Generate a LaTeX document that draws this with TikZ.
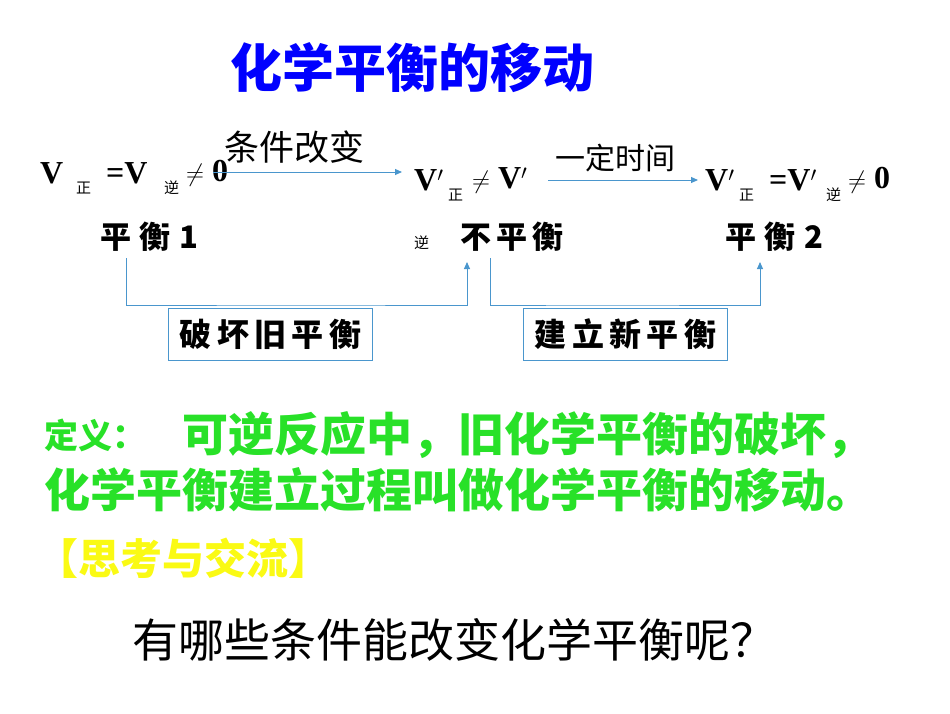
\documentclass[tikz,border=0pt]{standalone}
\usepackage{fontspec}
\setmainfont{Liberation Serif}
\newfontfamily\cjk{Noto Sans CJK SC}
\usetikzlibrary{arrows.meta}
\definecolor{lb}{RGB}{74,150,205}
\definecolor{gr}{RGB}{40,225,40}
\definecolor{ye}{RGB}{250,250,20}
\tikzset{
 vv/.style={inner sep=0,anchor=west,font=\fontsize{32}{32}\selectfont\bfseries},
 sb/.style={inner sep=0,anchor=west,font=\cjk\fontsize{15}{15}\selectfont},
 lab/.style={inner sep=0,anchor=west,font=\cjk\fontsize{31}{31}\selectfont\bfseries},
 conn/.style={lb,line width=1pt},
 arr/.style={conn,-{Triangle[length=7pt,width=6pt]}},
 bx/.style={draw=lb,line width=1pt,minimum width=204pt,minimum height=52pt,inner sep=0,font=\cjk\fontsize{32}{32}\selectfont\bfseries}
}
\begin{document}
\begin{tikzpicture}[x=1pt,y=-1pt]
\useasboundingbox (0,0) rectangle (950,713);
\node[inner sep=0,text=blue,font=\cjk\fontsize{52}{52}\selectfont\bfseries] (title) at (412,68) {化学平衡的移动};
% equation 1
\node[vv] (a1) at (40,173) {V};
\node[sb] (a2) at (76,188) {正};
\node[vv] (a3) at (106,173) {=V};
\node[sb] (a4) at (164,188) {逆};
\node[vv] (a5) at (186,173) {$\neq$ 0};
\node[inner sep=0,anchor=west,font=\cjk\fontsize{35}{35}\selectfont] (l1) at (224,147) {条件改变};
\coordinate (s1) at (213,172);
\coordinate (e1) at (402,172);
\draw[arr] (s1) -- (e1);
% equation 2
\node[vv] (b1) at (414,180) {V$'$};
\node[sb] (b2) at (448,195) {正};
\node[vv] (b3) at (472,180) {$\neq$ V$'$};
\node[sb] (b4) at (414,243) {逆};
\node[inner sep=0,anchor=west,font=\cjk\fontsize{30}{30}\selectfont] (l2) at (555,158) {一定时间};
\coordinate (s2) at (548,180);
\coordinate (e2) at (698,180);
\draw[arr] (s2) -- (e2);
% equation 3
\node[vv] (c1) at (705,180) {V$'$};
\node[sb] (c2) at (739,195) {正};
\node[vv] (c3) at (769,180) {=V$'$};
\node[sb] (c4) at (826,195) {逆};
\node[vv] (c5) at (848,180) {$\neq$ 0};
% labels
\node[lab] (p1) at (100,237) {平\;衡\;1};
\node[lab] (p2) at (460,237) {不\,平\,衡};
\node[lab] (p3) at (725,237) {平\;衡\;2};
\coordinate (k1) at (126,258);
\coordinate (k2) at (467,262);
\coordinate (k3) at (490,258);
\coordinate (k4) at (760,262);
\draw[arr] (k1) |- (305,305) -| (k2);
\draw[arr] (k3) |- (600,305) -| (k4);
\node[bx,anchor=north west] (box1) at (168,308) {破\,坏\,旧\,平\,衡};
\node[bx,anchor=north west] (box2) at (523,308) {建\,立\,新\,平\,衡};
% definition
\node[inner sep=0,anchor=west,text=gr,font=\cjk\fontsize{34}{34}\selectfont\bfseries] (d0) at (44,435) {定义：};
\node[inner sep=0,anchor=west,text=gr,font=\cjk\fontsize{46}{46}\selectfont\bfseries] (d1) at (182,435) {可逆反应中，旧化学平衡的破坏，};
\node[inner sep=0,anchor=west,text=gr,font=\cjk\fontsize{46}{46}\selectfont\bfseries] (d2) at (44,490) {化学平衡建立过程叫做化学平衡的移动。};
\node[inner sep=0,anchor=west,text=ye,font=\cjk\fontsize{42}{42}\selectfont\bfseries] (q) at (36,558) {【思考与交流】};
\node[inner sep=0,anchor=west,font=\cjk\fontsize{46}{46}\selectfont] (qq) at (132,640) {有哪些条件能改变化学平衡呢？};
\end{tikzpicture}
\end{document}
